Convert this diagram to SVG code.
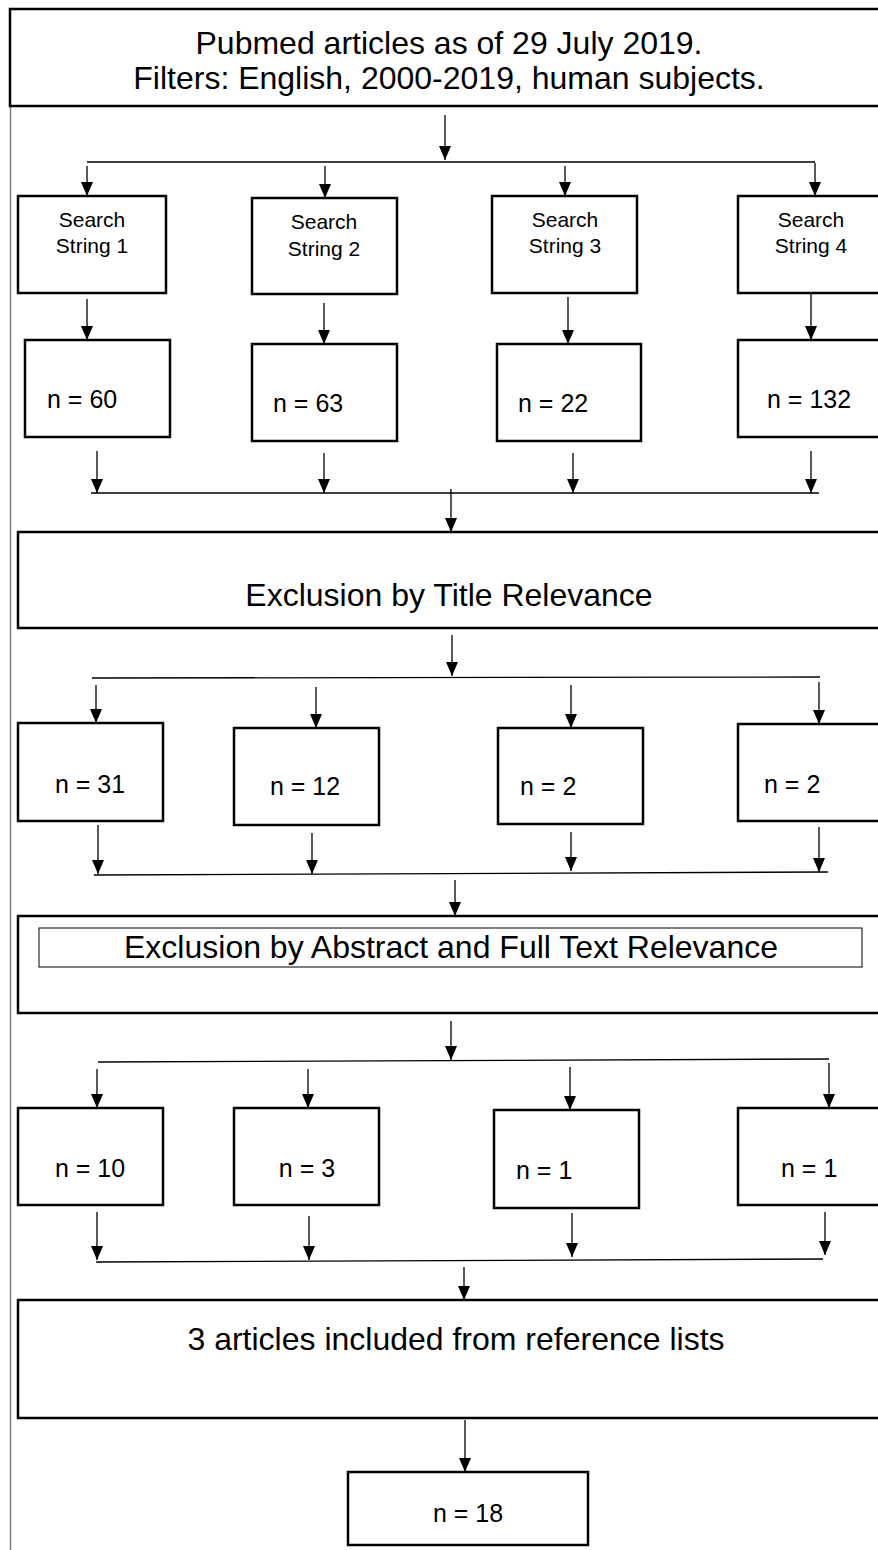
<svg xmlns="http://www.w3.org/2000/svg" width="878" height="1550" viewBox="0 0 878 1550">
<style>
  .box{fill:#fff;stroke:#000;stroke-width:2.5}
  .inner{fill:none;stroke:#000;stroke-width:1}
  .ln{stroke:#000;stroke-width:1.3;fill:none}
  .arr{stroke:#000;stroke-width:1.3;fill:none;marker-end:url(#ah)}
  .big{font-family:"Liberation Sans",Arial,sans-serif;font-size:32px;fill:#000;text-anchor:middle}
  .top{font-family:"Liberation Sans",Arial,sans-serif;font-size:32px;fill:#000;text-anchor:middle}
  .ss{font-family:"Liberation Sans",Arial,sans-serif;font-size:21px;fill:#000;text-anchor:middle}
  .n{font-family:"Liberation Sans",Arial,sans-serif;font-size:25px;fill:#000}
</style>
<defs>
  <marker id="ah" viewBox="0 0 14 12" refX="14" refY="6" markerWidth="14" markerHeight="12" markerUnits="userSpaceOnUse" orient="auto">
    <path d="M0,0 L14,6 L0,12 z" fill="#000"/>
  </marker>
</defs>
<rect width="878" height="1550" fill="#fff"/>
<line x1="10.5" y1="100" x2="10.5" y2="1550" stroke="#808080" stroke-width="1.5"/>

<g id="top">
  <rect class="box" x="10" y="9" width="880" height="97"/>
  <text class="top" x="449" y="54">Pubmed articles as of 29 July 2019.</text>
  <text class="top" x="449" y="89">Filters: English, 2000-2019, human subjects.</text>
</g>

<g id="ss1"><rect class="box" x="18" y="196" width="148" height="97"/><text class="ss" x="92" y="227">Search</text><text class="ss" x="92" y="253">String 1</text></g>
<g id="ss2"><rect class="box" x="252" y="198" width="145" height="96"/><text class="ss" x="324" y="229">Search</text><text class="ss" x="324" y="256">String 2</text></g>
<g id="ss3"><rect class="box" x="492" y="196" width="145" height="97"/><text class="ss" x="565" y="227">Search</text><text class="ss" x="565" y="253">String 3</text></g>
<g id="ss4"><rect class="box" x="738" y="196" width="150" height="97"/><text class="ss" x="811" y="227">Search</text><text class="ss" x="811" y="253">String 4</text></g>

<g id="n60"><rect class="box" x="25" y="340" width="145" height="97"/><text class="n" x="47" y="408">n = 60</text></g>
<g id="n63"><rect class="box" x="252" y="344" width="145" height="97"/><text class="n" x="273" y="412">n = 63</text></g>
<g id="n22"><rect class="box" x="497" y="344" width="144" height="97"/><text class="n" x="518" y="412">n = 22</text></g>
<g id="n132"><rect class="box" x="738" y="340" width="150" height="97"/><text class="n" x="767" y="408">n = 132</text></g>

<g id="title"><rect class="box" x="18" y="532" width="872" height="96"/><text class="big" x="449" y="606">Exclusion by Title Relevance</text></g>

<g id="n31"><rect class="box" x="18" y="723" width="145" height="98"/><text class="n" x="90" y="793" text-anchor="middle">n = 31</text></g>
<g id="n12"><rect class="box" x="234" y="728" width="145" height="97"/><text class="n" x="305" y="795" text-anchor="middle">n = 12</text></g>
<g id="n2a"><rect class="box" x="498" y="728" width="145" height="96"/><text class="n" x="520" y="795">n = 2</text></g>
<g id="n2b"><rect class="box" x="738" y="724" width="150" height="97"/><text class="n" x="764" y="793">n = 2</text></g>

<g id="abstract"><rect class="box" x="18" y="916" width="872" height="97"/><rect class="inner" x="39" y="928" width="823" height="39"/><text class="big" x="451" y="958">Exclusion by Abstract and Full Text Relevance</text></g>

<g id="n10"><rect class="box" x="18" y="1108" width="145" height="97"/><text class="n" x="90" y="1177" text-anchor="middle">n = 10</text></g>
<g id="n3"><rect class="box" x="234" y="1108" width="145" height="97"/><text class="n" x="307" y="1177" text-anchor="middle">n = 3</text></g>
<g id="n1a"><rect class="box" x="494" y="1110" width="145" height="98"/><text class="n" x="516" y="1179">n = 1</text></g>
<g id="n1b"><rect class="box" x="738" y="1108" width="150" height="97"/><text class="n" x="781" y="1177">n = 1</text></g>

<g id="refs"><rect class="box" x="18" y="1300" width="872" height="118"/><text class="big" x="456" y="1350">3 articles included from reference lists</text></g>

<g id="n18"><rect class="box" x="348" y="1472" width="240" height="73"/><text class="n" x="468" y="1522" text-anchor="middle">n = 18</text></g>

<g id="connectors">
  <line class="arr" x1="445" y1="115" x2="445" y2="160"/>
  <line class="ln" x1="87" y1="162" x2="815" y2="162"/>
  <line class="arr" x1="87" y1="166" x2="87" y2="196"/>
  <line class="arr" x1="325" y1="166" x2="325" y2="198"/>
  <line class="arr" x1="565" y1="166" x2="565" y2="196"/>
  <line class="arr" x1="815" y1="163" x2="815" y2="196"/>

  <line class="arr" x1="87" y1="299" x2="87" y2="340"/>
  <line class="arr" x1="324" y1="303" x2="324" y2="344"/>
  <line class="arr" x1="568" y1="297" x2="568" y2="344"/>
  <line class="arr" x1="811" y1="293" x2="811" y2="340"/>

  <line class="arr" x1="97" y1="451" x2="97" y2="493"/>
  <line class="arr" x1="324" y1="453" x2="324" y2="493"/>
  <line class="arr" x1="573" y1="453" x2="573" y2="493"/>
  <line class="arr" x1="811" y1="451" x2="811" y2="493"/>
  <line class="ln" x1="91" y1="493" x2="819" y2="493"/>
  <line class="arr" x1="451" y1="489" x2="451" y2="532"/>

  <line class="arr" x1="452" y1="635" x2="452" y2="676"/>
  <line class="ln" x1="92" y1="678" x2="820" y2="677"/>
  <line class="arr" x1="96" y1="685" x2="96" y2="723"/>
  <line class="arr" x1="316" y1="687" x2="316" y2="728"/>
  <line class="arr" x1="571" y1="685" x2="571" y2="728"/>
  <line class="arr" x1="819" y1="682" x2="819" y2="724"/>

  <line class="arr" x1="98" y1="825" x2="98" y2="874"/>
  <line class="arr" x1="312" y1="833" x2="312" y2="874"/>
  <line class="arr" x1="571" y1="832" x2="571" y2="871"/>
  <line class="arr" x1="819" y1="827" x2="819" y2="872"/>
  <line class="ln" x1="94" y1="875" x2="828" y2="872"/>
  <line class="arr" x1="455" y1="880" x2="455" y2="916"/>

  <line class="arr" x1="451" y1="1021" x2="451" y2="1060"/>
  <line class="ln" x1="98" y1="1062" x2="829" y2="1059"/>
  <line class="arr" x1="97" y1="1069" x2="97" y2="1108"/>
  <line class="arr" x1="308" y1="1069" x2="308" y2="1108"/>
  <line class="arr" x1="570" y1="1067" x2="570" y2="1110"/>
  <line class="arr" x1="829" y1="1063" x2="829" y2="1108"/>

  <line class="arr" x1="97" y1="1212" x2="97" y2="1260"/>
  <line class="arr" x1="309" y1="1216" x2="309" y2="1260"/>
  <line class="arr" x1="572" y1="1213" x2="572" y2="1257"/>
  <line class="arr" x1="825" y1="1212" x2="825" y2="1255"/>
  <line class="ln" x1="96" y1="1262" x2="823" y2="1259"/>
  <line class="arr" x1="464" y1="1267" x2="464" y2="1300"/>

  <line class="arr" x1="465" y1="1420" x2="465" y2="1472"/>
</g>
</svg>
